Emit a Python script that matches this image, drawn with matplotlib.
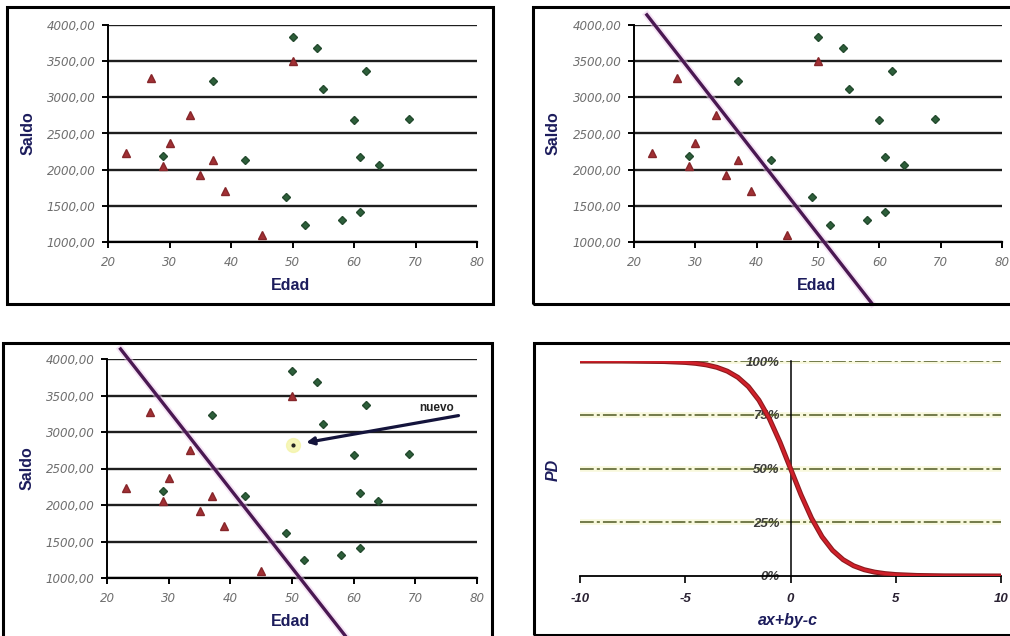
import matplotlib
matplotlib.use("Agg")
import matplotlib.pyplot as plt
from matplotlib.patches import Rectangle
from matplotlib.ticker import FixedLocator

plt.rcParams['font.family'] = 'Liberation Sans'

W, H = 1010, 636

# clientes con impago (triangulos rojos)
edad_rojo = [23, 27, 29, 30, 33.4, 35, 37, 39, 45, 50]
saldo_rojo = [2230, 3270, 2050, 2370, 2750, 1920, 2130, 1710, 1100, 3500]

# clientes sin impago (verdes)
edad_verde = [29, 37, 42.3, 49, 50, 52, 54, 55, 58, 60, 61, 61, 62, 64, 69]
saldo_verde = [2190, 3230, 2130, 1620, 3830, 1240, 3680, 3110, 1310, 2680,
               1410, 2170, 3370, 2060, 2700]

# frontera de separacion
frontera_edad_2 = [22.1, 58.8]
frontera_saldo_2 = [4140, 150]
frontera_edad_3 = [22.2, 58.6]
frontera_saldo_3 = [4137, 212]

# nuevo cliente
nuevo_edad = [50.2]
nuevo_saldo = [2825]

edad_ticks = [20, 30, 40, 50, 60, 70, 80]
saldo_ticks = [1000, 1500, 2000, 2500, 3000, 3500, 4000]

# curva logistica (PD)
pd_x = [-10, -8, -6, -5, -4.5, -4, -3.5, -3, -2.5, -2, -1.5, -1, -0.5, 0,
        0.5, 1, 1.5, 2, 2.5, 3, 3.5, 4, 4.5, 5, 6, 7.3, 10]
pd_y = [100.0, 99.97, 99.75, 99.33, 98.9, 98.2, 97.07, 95.26, 92.41, 88.08,
        81.76, 73.11, 62.25, 50.0, 37.75, 26.89, 18.24, 11.92, 7.59, 4.74,
        2.93, 1.8, 1.1, 0.67, 0.25, 0.07, 0.0]
pd_xticks = [-10, -5, 0, 5, 10]
pd_yticks = [0, 25, 50, 75, 100]

NAVY = '#1c1c5c'
TICK_GRAY = '#6e6e6e'


def px_box(x0, y0, x1, y1):
    return [x0 / W, 1 - y1 / H, (x1 - x0) / W, (y1 - y0) / H]


def border(fig, x0, y0, x1, y1):
    fig.add_artist(Rectangle((x0 / W, 1 - y1 / H), (x1 - x0) / W, (y1 - y0) / H,
                             transform=fig.transFigure, fill=False,
                             ec='black', lw=2.2))


def label(fig, x, y, s, rot=0, style='normal'):
    fig.text(x / W, 1 - y / H, s, ha='center', va='center', rotation=rot,
             fontsize=11.5, fontweight='bold', style=style, color=NAVY)


def draw_scatter(ax):
    ax.set_xlim(20, 80)
    ax.set_ylim(1000, 4000)
    ax.patch.set_visible(False)
    for s in ['top', 'right']:
        ax.spines[s].set_visible(False)
    ax.spines['left'].set_linewidth(1.4)
    ax.spines['bottom'].set_linewidth(1.6)
    ax.yaxis.set_major_locator(FixedLocator(saldo_ticks))
    ax.xaxis.set_major_locator(FixedLocator(edad_ticks))
    ax.set_yticklabels([("%.2f" % v).replace('.', ',') for v in saldo_ticks])
    ax.set_xticklabels([str(v) for v in edad_ticks])
    ax.tick_params(axis='y', length=4.5, width=1.4, pad=4.5, labelsize=8.6,
                   labelcolor=TICK_GRAY)
    ax.tick_params(axis='x', length=4, width=1.4, pad=6, labelsize=8.6,
                   labelcolor=TICK_GRAY)
    for t in ax.get_xticklabels() + ax.get_yticklabels():
        t.set_fontfamily('DejaVu Sans')
        t.set_fontstyle('italic')
    ax.grid(axis='y', color='#1e1e1e', lw=1.7)
    ax.set_axisbelow(True)
    ax.plot(edad_rojo, saldo_rojo, '^', color='#a23034', ms=5.5, mec='#86262a',
            clip_on=False, zorder=3)
    ax.plot(edad_verde, saldo_verde, 'D', color='#2d5f3a', ms=4, mec='#244a2e',
            clip_on=False, zorder=3)


def draw_frontera(ax, xs, ys):
    ax.plot(xs, ys, color='#eccaec', lw=5, alpha=0.5, clip_on=False, zorder=4)
    ax.plot(xs, ys, color='#4a1852', lw=2.4, clip_on=False, zorder=5)


fig = plt.figure(figsize=(W / 100, H / 100), dpi=100)

# panel 1
ax1 = fig.add_axes(px_box(108, 25, 477, 242))
draw_scatter(ax1)
border(fig, 7, 7, 493, 304)
label(fig, 28, 133, 'Saldo', rot=90)
label(fig, 290, 286, 'Edad')

# panel 2
ax2 = fig.add_axes(px_box(634, 25, 1002, 242))
draw_scatter(ax2)
draw_frontera(ax2, frontera_edad_2, frontera_saldo_2)
border(fig, 533, 7, 1016, 304)
label(fig, 553, 133, 'Saldo', rot=90)
label(fig, 817, 286, 'Edad')

# panel 3
ax3 = fig.add_axes(px_box(107, 359, 477, 578))
draw_scatter(ax3)
draw_frontera(ax3, frontera_edad_3, frontera_saldo_3)
ax3.plot(nuevo_edad, nuevo_saldo, 'o', color='#f4f4a8', ms=10, alpha=0.8,
         zorder=3)
ax3.plot(nuevo_edad, nuevo_saldo, 'o', color='#222222', ms=2, zorder=4)
ax3.annotate('', xy=(52.3, 2855), xytext=(77, 3225),
             arrowprops=dict(arrowstyle='-|>', color='#14143c', lw=2.3,
                             mutation_scale=11, shrinkA=0, shrinkB=0),
             zorder=6)
ax3.text(73.5, 3330, 'nuevo', ha='center', va='center', fontsize=8.5,
         fontweight='bold', color='#222222')
border(fig, 3, 343, 492, 640)
label(fig, 27, 468, 'Saldo', rot=90)
label(fig, 290, 622, 'Edad')

# panel 4
ax4 = fig.add_axes(px_box(580, 361, 1001, 576))
ax4.set_xlim(-10, 10)
ax4.set_ylim(0, 100)
ax4.patch.set_visible(False)
for s in ['top', 'right']:
    ax4.spines[s].set_visible(False)
ax4.spines['left'].set_position(('data', 0))
ax4.spines['left'].set_linewidth(1.1)
ax4.spines['bottom'].set_linewidth(1.3)
ax4.xaxis.set_major_locator(FixedLocator(pd_xticks))
ax4.yaxis.set_major_locator(FixedLocator(pd_yticks))
ax4.set_xticklabels([str(v) for v in pd_xticks])
ax4.set_yticklabels(["%d%%" % v for v in pd_yticks])
ax4.tick_params(axis='y', length=0, pad=8, labelsize=9.5, labelcolor='#3a3a3a')
ax4.tick_params(axis='x', length=5, width=1.2, pad=7, labelsize=9.5,
                labelcolor='#2a2233')
for t in ax4.get_xticklabels() + ax4.get_yticklabels():
    t.set_fontweight('bold')
    t.set_fontstyle('italic')
for v in pd_yticks[1:]:
    ax4.axhline(v, color='#f8f8dc', lw=4, zorder=1)
    ax4.axhline(v, color='#4f5a24', lw=1.1, ls=(0, (9, 2, 2, 2)), zorder=2)
ax4.plot(pd_x, pd_y, color='#8c1a1e', lw=3.6, zorder=3)
ax4.plot(pd_x, pd_y, color='#d0202a', lw=2.0, zorder=4)
border(fig, 534, 343, 1016, 635)
label(fig, 553, 470, 'PD', rot=90, style='italic')
label(fig, 788, 620, 'ax+by-c', style='italic')

fig.savefig('out.png', dpi=100)
